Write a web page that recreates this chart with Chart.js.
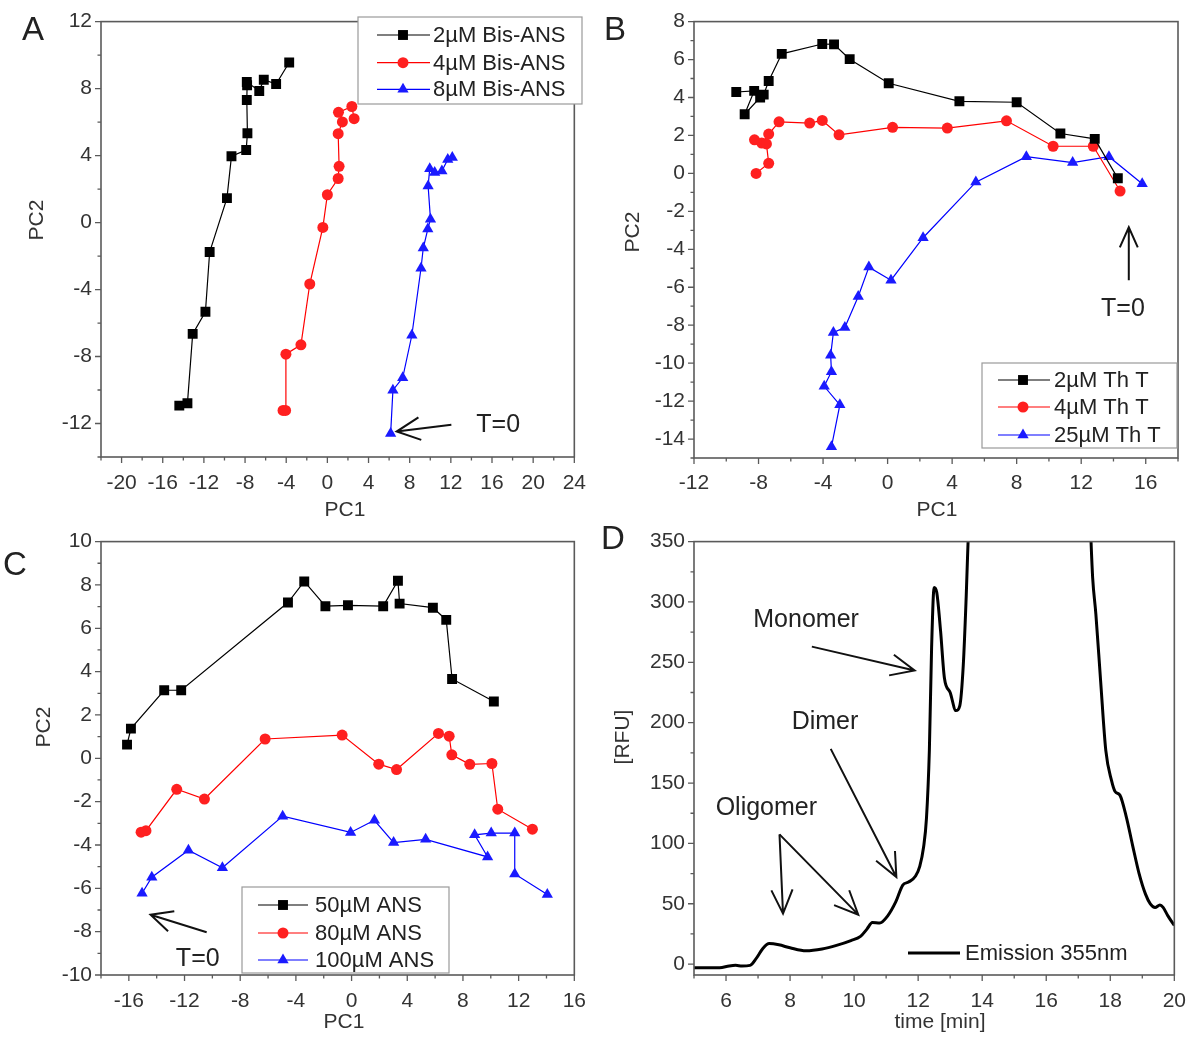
<!DOCTYPE html>
<html><head><meta charset="utf-8">
<script src="https://cdn.jsdelivr.net/npm/chart.js@4.4.1/dist/chart.umd.min.js"></script>
<style>
html,body{margin:0;padding:0;background:#fff;}
#wrap{position:relative;width:1200px;height:1047px;overflow:hidden;background:#fff;}
canvas{position:absolute;}
</style></head><body><div id="wrap">
<canvas id="cA" width="600" height="520" style="left:0;top:0;width:600px;height:520px"></canvas>
<canvas id="cB" width="600" height="520" style="left:600px;top:0;width:600px;height:520px"></canvas>
<canvas id="cC" width="600" height="527" style="left:0;top:520px;width:600px;height:527px"></canvas>
<canvas id="cD" width="600" height="527" style="left:600px;top:520px;width:600px;height:527px"></canvas>
</div>
<script>
// ---------- Panel A : Bis-ANS (PC1, PC2) ----------
const bisLabels = ['2µM Bis-ANS','4µM Bis-ANS','8µM Bis-ANS'];
const bis2 = [[-14.39,-10.93],[-13.6,-10.79],[-13.09,-6.65],[-11.85,-5.33],[-11.44,-1.76],[-9.76,1.46],[-9.32,3.96],[-7.89,4.33],[-7.77,5.33],[-7.83,7.32],[-7.8,8.2],[-7.83,8.39],[-6.62,7.86],[-6.18,8.53],[-4.98,8.27],[-3.71,9.56]];
const bis4 = [[-4.31,-11.22],[-4.06,-11.22],[-4.03,-7.86],[-2.57,-7.3],[-1.71,-3.67],[-0.44,-0.29],[0,1.66],[1.05,2.63],[1.14,3.36],[1.05,5.31],[1.46,6.01],[1.08,6.58],[2.38,6.93],[2.6,6.2]];
const bis8 = [[6.15,-12.59],[6.37,-10.01],[7.32,-9.27],[8.21,-6.73],[9.1,-2.73],[9.32,-1.52],[9.76,-0.39],[10.02,0.2],[9.79,2.19],[9.95,3.22],[10.43,2.99],[11.13,3.08],[11.7,3.77],[12.14,3.88]];
const aXTicks = [-20,-16,-12,-8,-4,0,4,8,12,16,20,24];
const aYTicks = [-12,-8,-4,0,4,8,12];

// ---------- Panel B : Th T ----------
const thtLabels = ['2µM Th T','4µM Th T','25µM Th T'];
const tht2 = [[14.27,-0.26],[12.84,1.82],[10.71,2.1],[8.0,3.75],[4.45,3.8],[0.07,4.75],[-2.35,6.02],[-3.32,6.8],[-4.05,6.82],[-6.56,6.3],[-7.37,4.87],[-7.68,4.15],[-7.9,4.0],[-8.86,3.12],[-8.27,4.35],[-9.38,4.29]];
const tht4 = [[14.41,-0.93],[12.75,1.43],[10.26,1.43],[7.37,2.77],[3.7,2.39],[0.31,2.43],[-3.01,2.03],[-4.05,2.79],[-4.83,2.65],[-6.73,2.72],[-7.37,2.07],[-7.8,1.6],[-8.25,1.77],[-7.51,1.55],[-7.37,0.53],[-8.15,0]];
const tht25 = [[15.78,-0.55],[13.72,0.88],[11.47,0.57],[8.6,0.88],[5.47,-0.46],[2.2,-3.39],[0.21,-5.63],[-1.16,-4.94],[-1.82,-6.49],[-2.65,-8.12],[-3.36,-8.38],[-3.53,-9.59],[-3.48,-10.45],[-3.93,-11.22],[-2.96,-12.2],[-3.48,-14.41]];
const bXTicks = [-12,-8,-4,0,4,8,12,16];
const bYTicks = [-14,-12,-10,-8,-6,-4,-2,0,2,4,6,8];

// ---------- Panel C : ANS ----------
const ansLabels = ['50µM ANS','80µM ANS','100µM ANS'];
const ans50 = [[-16.13,0.63],[-15.85,1.37],[-13.46,3.14],[-12.24,3.14],[-4.57,7.19],[-3.4,8.16],[-1.88,7.02],[-0.26,7.06],[2.27,7.02],[3.33,8.19],[3.45,7.14],[5.84,6.95],[6.8,6.39],[7.22,3.66],[10.22,2.62]];
const ans80 = [[-15.12,-3.41],[-14.77,-3.34],[-12.56,-1.43],[-10.57,-1.88],[-6.21,0.89],[-0.68,1.07],[1.95,-0.27],[3.23,-0.52],[6.24,1.15],[7.01,1.02],[7.2,0.16],[8.49,-0.28],[10.08,-0.24],[10.5,-2.35],[12.99,-3.27]];
const ans100 = [[-15.05,-6.23],[-14.35,-5.49],[-11.72,-4.24],[-9.28,-5.05],[-4.95,-2.67],[-0.07,-3.42],[1.64,-2.86],[3.02,-3.89],[5.32,-3.74],[9.77,-4.55],[8.84,-3.53],[10.03,-3.45],[11.72,-3.45],[11.72,-5.34],[14.06,-6.28]];
const cXTicks = [-16,-12,-8,-4,0,4,8,12,16];
const cYTicks = [-10,-8,-6,-4,-2,0,2,4,6,8,10];

// ---------- Panel D : chromatogram ----------
const dLabel = 'Emission 355nm';
const dTime = [5.0,5.8,6.1,6.3,6.5,6.75,6.95,7.15,7.35,7.65,8.0,8.5,9.0,9.45,9.9,10.2,10.4,10.57,10.8,11.05,11.3,11.52,11.7,11.92,12.05,12.17,12.26,12.35,12.42,12.5,12.58,12.7,12.82,13.0,13.18,13.3,13.41,13.5,13.6,14.2,15.5,16.8,17.35,17.45,17.55,17.7,17.86,18.04,18.15,18.3,18.5,18.7,18.9,19.1,19.25,19.4,19.55,19.65,19.8,20.0];
const dRFU  = [-3,-3,-1.5,-1,-1.5,-1,5,13,17,16,13.5,11,12.5,15.5,19.5,23,29,34.5,34,40,51.5,65.5,68,73,81,97,121,177,262,312,308,276,237,225,210,214,248,304,380,600,800,600,380,320,290,234,177,152,143,140,122,98,75,58,50,47,49,47,40,32];
const dXTicks = [6,8,10,12,14,16,18,20];
const dYTicks = [0,50,100,150,200,250,300,350];

// ---------- styling ----------
const FONT = "'Liberation Sans', Arial, Helvetica, sans-serif";
const TXT = '#333333';
const AXIS = '#5a5a5a';
Chart.defaults.font.family = FONT;
Chart.defaults.color = TXT;

const STY = [
  {color:'#000000', fill:'#000000', style:'rect', r:7},
  {color:'#ff0000', fill:'#ff2020', style:'circle', r:5.5},
  {color:'#0000ff', fill:'#1a1aff', style:'triangle', r:6.5}
];
function pairs(arr){ return arr.map(p => ({x:p[0], y:p[1]})); }
function ds(label, arr, s){
  return {label, data:pairs(arr), showLine:true, borderColor:s.color, borderWidth:1.2,
    backgroundColor:s.fill, pointBackgroundColor:s.fill, pointBorderColor:s.fill, pointBorderWidth:0,
    pointStyle:s.style, pointRadius:s.r, pointHoverRadius:s.r, tension:0};
}

function arrow(ctx, x0, y0, x1, y1, head, ang){
  head = head || 22; ang = ang || 0.42;
  const a = Math.atan2(y1 - y0, x1 - x0);
  ctx.beginPath();
  ctx.moveTo(x0, y0); ctx.lineTo(x1, y1);
  ctx.moveTo(x1 - head*Math.cos(a - ang), y1 - head*Math.sin(a - ang));
  ctx.lineTo(x1, y1);
  ctx.lineTo(x1 - head*Math.cos(a + ang), y1 - head*Math.sin(a + ang));
  ctx.stroke();
}

function makeDeco(cfg){
  return {
    id:'deco',
    afterDatasetsDraw(chart){
      const ctx = chart.ctx, a = chart.chartArea, xs = chart.scales.x, ys = chart.scales.y;
      ctx.save();
      ctx.strokeStyle = AXIS; ctx.lineWidth = 1.6;
      ctx.strokeRect(a.left, a.top, a.right - a.left, a.bottom - a.top);
      ctx.lineWidth = 1.3;
      ctx.beginPath();
      const t = cfg.ticks;
      for (let v = t.x[0]; v <= xs.max + 1e-9; v += t.x[1]) {
        const p = xs.getPixelForValue(v);
        const maj = Math.abs(v / t.x[2] - Math.round(v / t.x[2])) < 1e-6;
        ctx.moveTo(p, a.bottom); ctx.lineTo(p, a.bottom + (maj ? 6 : 3.5));
      }
      for (let v = t.y[0]; v <= ys.max + 1e-9; v += t.y[1]) {
        const p = ys.getPixelForValue(v);
        const maj = Math.abs(v / t.y[2] - Math.round(v / t.y[2])) < 1e-6;
        ctx.moveTo(a.left, p); ctx.lineTo(a.left - (maj ? 6 : 3.5), p);
      }
      ctx.stroke();
      ctx.restore();
    },
    afterDraw(chart){
      const ctx = chart.ctx, xs = chart.scales.x, ys = chart.scales.y;
      const ox = cfg.off[0], oy = cfg.off[1];
      ctx.save();
      // axis titles
      ctx.fillStyle = TXT; ctx.textAlign = 'center'; ctx.textBaseline = 'middle';
      ctx.font = '21px ' + FONT;
      ctx.fillText(cfg.xTitle[0], cfg.xTitle[1] - ox, cfg.xTitle[2] - oy);
      ctx.save();
      ctx.translate(cfg.yTitle[1] - ox, cfg.yTitle[2] - oy);
      ctx.rotate(-Math.PI/2);
      ctx.fillText(cfg.yTitle[0], 0, 0);
      ctx.restore();
      // panel letter
      ctx.fillStyle = '#222'; ctx.textAlign = 'left';
      ctx.font = '33px ' + FONT;
      ctx.fillText(cfg.panel[0], cfg.panel[1] - ox, cfg.panel[2] - oy);
      // legend
      const L = cfg.legend;
      if (L.box) {
        ctx.fillStyle = '#ffffff';
        ctx.fillRect(L.box[0] - ox, L.box[1] - oy, L.box[2] - L.box[0], L.box[3] - L.box[1]);
        ctx.strokeStyle = '#9a9a9a'; ctx.lineWidth = 1.2;
        ctx.strokeRect(L.box[0] - ox, L.box[1] - oy, L.box[2] - L.box[0], L.box[3] - L.box[1]);
      }
      L.items.forEach((it, i) => {
        const d = chart.data.datasets[i];
        const y = it - oy;
        ctx.strokeStyle = d.borderColor; ctx.lineWidth = L.lw || 1.2;
        ctx.beginPath(); ctx.moveTo(L.line[0] - ox, y); ctx.lineTo(L.line[1] - ox, y); ctx.stroke();
        if (L.marker) {
          ctx.fillStyle = d.pointBackgroundColor; ctx.strokeStyle = d.pointBackgroundColor;
          Chart.helpers.drawPoint(ctx, {pointStyle:d.pointStyle, radius:d.pointRadius, rotation:0, borderWidth:0}, L.marker - ox, y);
        }
        ctx.fillStyle = '#222'; ctx.textAlign = 'left'; ctx.textBaseline = 'middle';
        ctx.font = '22px ' + FONT;
        ctx.fillText(d.label, L.text - ox, y + 1);
      });
      // annotations (data coordinates)
      ctx.strokeStyle = '#111'; ctx.lineWidth = 2; ctx.fillStyle = '#222';
      cfg.arrows.forEach(ar => {
        arrow(ctx, xs.getPixelForValue(ar[0]), ys.getPixelForValue(ar[1]),
                   xs.getPixelForValue(ar[2]), ys.getPixelForValue(ar[3]), ar[4], ar[5]);
      });
      cfg.notes.forEach(n => {
        ctx.font = n[3] + 'px ' + FONT; ctx.textAlign = 'center'; ctx.textBaseline = 'middle';
        ctx.fillText(n[0], xs.getPixelForValue(n[1]), ys.getPixelForValue(n[2]));
      });
      ctx.restore();
    }
  };
}

function axis(min, max, ticks, fit, pad, isX){
  const o = {
    type:'linear', min, max,
    afterBuildTicks(s){ s.ticks = ticks.map(v => ({value:v})); },
    grid:{display:false, drawTicks:false},
    border:{display:false},
    ticks:{padding:pad, autoSkip:false, maxRotation:0, color:TXT, font:{size:21, family:FONT}}
  };
  if (isX) o.afterFit = s => { s.height = fit; };
  else o.afterFit = s => { s.width = fit; };
  return o;
}

function build(id, datasets, sc, layoutPad, cfg, extra){
  return new Chart(document.getElementById(id), {
    type:'scatter',
    data:{datasets},
    options:Object.assign({
      responsive:false, animation:false, devicePixelRatio:1, events:[],
      layout:{padding:layoutPad},
      plugins:{legend:{display:false}, tooltip:{enabled:false}},
      scales:sc
    }, extra || {}),
    plugins:[makeDeco(cfg)]
  });
}

// Panel A
build('cA',
  [ds(bisLabels[0], bis2, STY[0]), ds(bisLabels[1], bis4, STY[1]), ds(bisLabels[2], bis8, STY[2])],
  {x:axis(-22, 24, aXTicks, 63, 14, true), y:axis(-14, 12, aYTicks, 101, 9, false)},
  {left:0, top:13, right:15, bottom:0},
  {off:[0,0], ticks:{x:[-22,2,4], y:[-14,2,4]},
   xTitle:['PC1',345,510], yTitle:['PC2',37.5,220], panel:['A',22,31],
   legend:{box:[358,17,582,104], items:[35,62.7,89.3], line:[377,430], marker:403, text:433},
   arrows:[[12.05,-12.07,6.73,-12.48,26,0.45]],
   notes:[['T=0',16.6,-12.07,25]]});

// Panel B
build('cB',
  [ds(thtLabels[0], tht2, STY[0]), ds(thtLabels[1], tht4, STY[1]), ds(thtLabels[2], tht25, STY[2])],
  {x:axis(-12, 18, bXTicks, 62, 13, true), y:axis(-15, 8, bYTicks, 94, 9, false)},
  {left:0, top:13, right:22, bottom:0},
  {off:[600,0], ticks:{x:[-12,2,4], y:[-15,1,2]},
   xTitle:['PC1',937,510], yTitle:['PC2',633.5,232], panel:['B',604,31],
   legend:{box:[982,363,1177,448], items:[380,407,435], line:[998,1050], marker:1023, text:1054},
   arrows:[[14.95,-5.63,14.95,-2.84,22,0.42]],
   notes:[['T=0',14.59,-7.14,25]]});

// Panel C
build('cC',
  [ds(ansLabels[0], ans50, STY[0]), ds(ansLabels[1], ans80, STY[1]), ds(ansLabels[2], ans100, STY[2])],
  {x:axis(-18, 16, cXTicks, 72, 14, true), y:axis(-10, 10, cYTicks, 101, 9, false)},
  {left:0, top:9, right:15, bottom:0},
  {off:[0,520], ticks:{x:[-18,2,4], y:[-10,1,2]},
   xTitle:['PC1',344,1022], yTitle:['PC2',44.5,727], panel:['C',3,566],
   legend:{box:[242,887,449,973], items:[905,933,960], line:[258,308], marker:283, text:315},
   arrows:[[-10.41,-8.03,-14.44,-7.22,24,0.45]],
   notes:[['T=0',-11.05,-9.28,25]]});

// Panel D
build('cD',
  [{label:dLabel, data:dTime.map((t,i) => ({x:t, y:dRFU[i]})), showLine:true, borderColor:'#000', borderWidth:3,
    pointRadius:0, pointHoverRadius:0, cubicInterpolationMode:'monotone', clip:0}],
  {x:axis(5, 20, dXTicks, 72, 14, true), y:axis(-9, 350, dYTicks, 94, 9, false)},
  {left:0, top:9, right:22, bottom:0},
  {off:[600,520], ticks:{x:[5,1,2], y:[0,25,50]},
   xTitle:['time [min]',940,1022], yTitle:['[RFU]',623.5,737], panel:['D',601,540],
   legend:{box:null, items:[953], line:[908,960], marker:null, text:965, lw:3},
   arrows:[[8.68,263,11.89,243.3,26,0.42],[9.27,178.3,11.32,72.2,26,0.42],[7.67,107.5,7.78,41.8,26,0.42],[7.67,107.5,10.13,41,26,0.42]],
   notes:[['Monomer',8.5,285,25],['Dimer',9.09,200.4,25],['Oligomer',7.26,129.4,25]]});
</script>
</body></html>
